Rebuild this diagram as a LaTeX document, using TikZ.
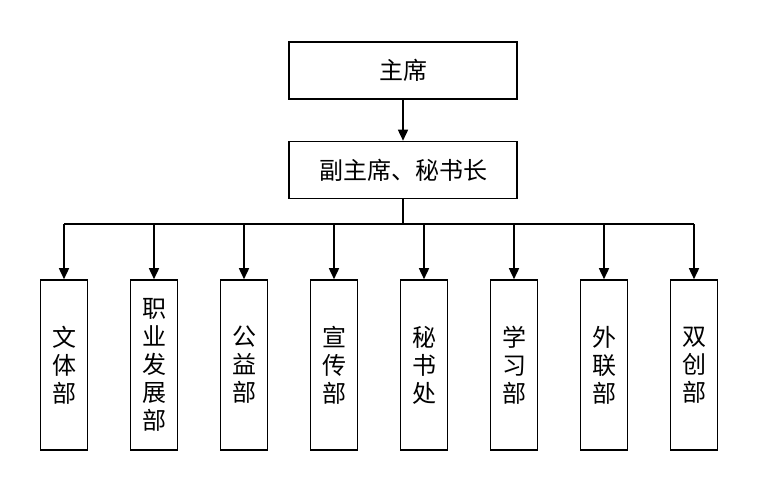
\documentclass[tikz,border=0pt]{standalone}
\usepackage{fontspec}
\newfontfamily\cjk{Noto Sans CJK SC}
\usetikzlibrary{positioning, arrows.meta}

\tikzset{
  box/.style={draw, line width=1.6pt, align=center, font=\cjk\fontsize{24}{28}\selectfont},
  dept/.style={box, minimum width=47pt, minimum height=170pt, inner sep=0pt},
  link/.style={line width=1.6pt, -{Triangle[length=11pt,width=10pt]}}
}

\begin{document}
\begin{tikzpicture}[x=1pt,y=-1pt]
\useasboundingbox (0,0) rectangle (767,490);

\node[box, minimum width=228pt, minimum height=57pt](C0) at (403,70.5) {主席};
\node[box, minimum width=228pt, minimum height=57pt](C1) at (403,170) {副主席、秘书长};

\node[dept](D1) at (64,365) {文\\体\\部};
\node[dept](D2) at (154,365) {职\\业\\发\\展\\部};
\node[dept](D3) at (244,365) {公\\益\\部};
\node[dept](D4) at (334,365) {宣\\传\\部};
\node[dept](D5) at (424,365) {秘\\书\\处};
\node[dept](D6) at (514,365) {学\\习\\部};
\node[dept](D7) at (604,365) {外\\联\\部};
\node[dept](D8) at (694,365) {双\\创\\部};

\coordinate(bus) at (403,224);

\draw[link] (C0) -- (C1);
\draw[line width=1.6pt] (C1) -- (bus);
\draw[line width=1.6pt] (bus -| D1) -- (bus -| D8);
\draw[link] (bus -| D1) -- (D1);
\draw[link] (bus -| D2) -- (D2);
\draw[link] (bus -| D3) -- (D3);
\draw[link] (bus -| D4) -- (D4);
\draw[link] (bus -| D5) -- (D5);
\draw[link] (bus -| D6) -- (D6);
\draw[link] (bus -| D7) -- (D7);
\draw[link] (bus -| D8) -- (D8);
\end{tikzpicture}
\end{document}
